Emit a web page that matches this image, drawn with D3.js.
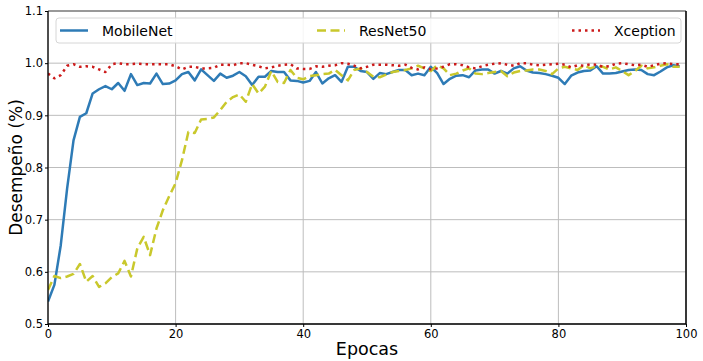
<!DOCTYPE html>
<html>
<head>
<meta charset="utf-8">
<script src="https://cdn.jsdelivr.net/npm/d3@7/dist/d3.min.js"></script>
<style>
  html, body { margin: 0; padding: 0; background: #fff; }
  svg { display: block; font-family: "DejaVu Sans", sans-serif; }
</style>
</head>
<body>
<svg id="chart" width="703" height="361"></svg>
<script>
// ---- data ----
const seriesNames = ["MobileNet", "ResNet50", "Xception"];
const xTicks = [0, 20, 40, 60, 80, 100];
const yTicks = [0.5, 0.6, 0.7, 0.8, 0.9, 1.0, 1.1];
const xLabel = "Epocas";
const yLabel = "Desempeño (%)";

const mobilenet = [
  0.543, 0.575, 0.651, 0.760, 0.852, 0.897, 0.904, 0.942, 0.950, 0.956,
  0.950, 0.962, 0.947, 0.979, 0.958, 0.962, 0.961, 0.980, 0.960, 0.961,
  0.967, 0.979, 0.983, 0.967, 0.988, 0.977, 0.966, 0.980, 0.972, 0.976,
  0.983, 0.975, 0.958, 0.974, 0.974, 0.985, 0.983, 0.983, 0.967, 0.966,
  0.963, 0.966, 0.983, 0.961, 0.971, 0.977, 0.964, 0.993, 0.993, 0.985,
  0.983, 0.970, 0.981, 0.979, 0.983, 0.987, 0.987, 0.977, 0.980, 0.977,
  0.993, 0.981, 0.960, 0.970, 0.976, 0.977, 0.973, 0.986, 0.988, 0.988,
  0.980, 0.985, 0.980, 0.990, 0.994, 0.986, 0.982, 0.981, 0.979, 0.976,
  0.972, 0.960, 0.976, 0.982, 0.985, 0.986, 0.994, 0.980, 0.980, 0.981,
  0.984, 0.987, 0.988, 0.987, 0.979, 0.977, 0.984, 0.992, 0.996, 0.994
];
const resnet50 = [
  0.565, 0.592, 0.588, 0.591, 0.596, 0.615, 0.581, 0.592, 0.571, 0.578,
  0.590, 0.597, 0.621, 0.591, 0.645, 0.667, 0.632, 0.683, 0.718, 0.745,
  0.770, 0.814, 0.868, 0.866, 0.892, 0.893, 0.896, 0.910, 0.926, 0.935,
  0.940, 0.926, 0.960, 0.942, 0.955, 0.985, 0.964, 0.962, 0.987, 0.972,
  0.969, 0.975, 0.977, 0.979, 0.980, 0.987, 0.977, 0.967, 0.987, 0.990,
  0.983, 0.974, 0.973, 0.978, 0.983, 0.985, 0.987, 0.990, 0.995, 0.990,
  0.985, 0.996, 0.990, 0.977, 0.980, 0.986, 0.990, 0.980, 0.979, 0.981,
  0.983, 0.985, 0.975, 0.982, 0.985, 0.986, 0.988, 0.988, 0.985, 0.979,
  0.990, 0.993, 0.990, 0.987, 0.996, 0.990, 0.994, 0.993, 0.988, 0.992,
  0.985, 0.977, 0.985, 0.995, 0.990, 0.992, 0.995, 0.998, 0.993, 0.993
];
const xception = [
  0.980, 0.971, 0.977, 0.995, 0.998, 0.993, 0.994, 0.993, 0.988, 0.983,
  0.998, 1.000, 0.998, 0.998, 0.999, 0.998, 0.998, 0.998, 0.998, 0.998,
  0.994, 0.988, 0.993, 0.993, 0.990, 0.990, 0.991, 0.997, 0.997, 0.996,
  1.000, 1.000, 0.997, 0.994, 0.990, 0.992, 0.995, 0.997, 0.998, 0.990,
  0.989, 0.989, 0.994, 0.993, 0.995, 0.996, 1.000, 0.999, 0.995, 0.990,
  0.993, 0.997, 0.997, 0.997, 0.996, 0.995, 0.997, 0.991, 0.988, 0.992,
  0.988, 0.990, 0.993, 0.998, 0.998, 0.996, 0.992, 0.990, 0.994, 0.997,
  0.999, 1.000, 0.997, 0.995, 1.000, 1.000, 0.997, 0.996, 0.997, 0.998,
  0.999, 0.997, 0.992, 0.996, 0.995, 0.998, 0.997, 0.993, 0.994, 0.999,
  1.000, 0.998, 0.996, 0.997, 0.993, 0.996, 0.999, 1.000, 0.998, 0.998
];

// ---- styles ----
const styles = [
  { color: "#2e7bb6", dash: null, cap: "butt", width: 2.5 },
  { color: "#c9c82c", dash: "9,4.5", cap: "butt", width: 2.5 },
  { color: "#cc1a1a", dash: "2.5,4", cap: "butt", width: 2.5 }
];
const allSeries = [mobilenet, resnet50, xception];

const svg = d3.select("#chart");
const L = 48, R = 686, T = 11, B = 324;

const x = d3.scaleLinear().domain([0, 100]).range([L, R]);
const y = d3.scaleLinear().domain([0.5, 1.1]).range([B, T]);

svg.append("defs").append("clipPath").attr("id", "clip")
  .append("rect").attr("x", L).attr("y", T).attr("width", R - L).attr("height", B - T);

// grid
const grid = svg.append("g");
grid.selectAll("line.gx").data(xTicks).join("line")
  .attr("x1", d => x(d)).attr("x2", d => x(d)).attr("y1", T).attr("y2", B)
  .attr("stroke", "#bdbdbd").attr("stroke-width", 1);
grid.selectAll("line.gy").data(yTicks).join("line")
  .attr("x1", L).attr("x2", R).attr("y1", d => y(d)).attr("y2", d => y(d))
  .attr("stroke", "#bdbdbd").attr("stroke-width", 1);

// lines
const line = d3.line().x((d, i) => x(i)).y(d => y(d));
const linesG = svg.append("g").attr("clip-path", "url(#clip)");
allSeries.forEach((s, k) => {
  linesG.append("path").datum(s)
    .attr("d", line)
    .attr("fill", "none")
    .attr("stroke", styles[k].color)
    .attr("stroke-width", styles[k].width)
    .attr("stroke-linecap", styles[k].cap)
    .attr("stroke-linejoin", "round")
    .attr("stroke-dasharray", styles[k].dash);
});

// axes
const xAxis = d3.axisBottom(x).tickValues(xTicks).tickFormat(d3.format("d")).tickSize(3).tickPadding(3);
const yAxis = d3.axisLeft(y).tickValues(yTicks).tickFormat(d3.format(".1f")).tickSize(3).tickPadding(2);
const gx = svg.append("g").attr("transform", `translate(0,${B})`).call(xAxis);
const gy = svg.append("g").attr("transform", `translate(${L},0)`).call(yAxis);
[gx, gy].forEach(g => {
  g.select(".domain").remove();
  g.selectAll("text").attr("font-size", 11.5).attr("fill", "#000").attr("font-family", "DejaVu Sans");
  g.selectAll("line").attr("stroke", "#000");
});

// spines
svg.append("line").attr("x1", L).attr("x2", R).attr("y1", T).attr("y2", T).attr("stroke", "#555").attr("stroke-width", 1);
svg.append("line").attr("x1", L).attr("x2", R).attr("y1", B).attr("y2", B).attr("stroke", "#000").attr("stroke-width", 1.3);
svg.append("line").attr("x1", L).attr("x2", L).attr("y1", T).attr("y2", B).attr("stroke", "#000").attr("stroke-width", 1.3);
svg.append("line").attr("x1", R).attr("x2", R).attr("y1", T).attr("y2", B).attr("stroke", "#000").attr("stroke-width", 1.5);

// axis labels
svg.append("text").attr("x", (L + R) / 2).attr("y", 355).attr("text-anchor", "middle")
  .attr("font-size", 17.5).text(xLabel);
svg.append("text").attr("transform", `translate(22,${(T + B) / 2}) rotate(-90)`)
  .attr("text-anchor", "middle").attr("font-size", 17).text(yLabel);

// legend
const leg = svg.append("g");
leg.append("rect").attr("x", 56).attr("y", 18).attr("width", 625).attr("height", 25).attr("rx", 3)
  .attr("fill", "#fff").attr("fill-opacity", 0.85).attr("stroke", "#d6d6d6").attr("stroke-width", 1);
const legX = [60, 317, 572];
seriesNames.forEach((name, k) => {
  leg.append("line").attr("x1", legX[k]).attr("x2", legX[k] + 28).attr("y1", 30.5).attr("y2", 30.5)
    .attr("stroke", styles[k].color).attr("stroke-width", styles[k].width)
    .attr("stroke-dasharray", styles[k].dash);
  leg.append("text").attr("x", legX[k] + 42).attr("y", 35.5).attr("font-size", 14).text(name);
});
</script>
</body>
</html>
